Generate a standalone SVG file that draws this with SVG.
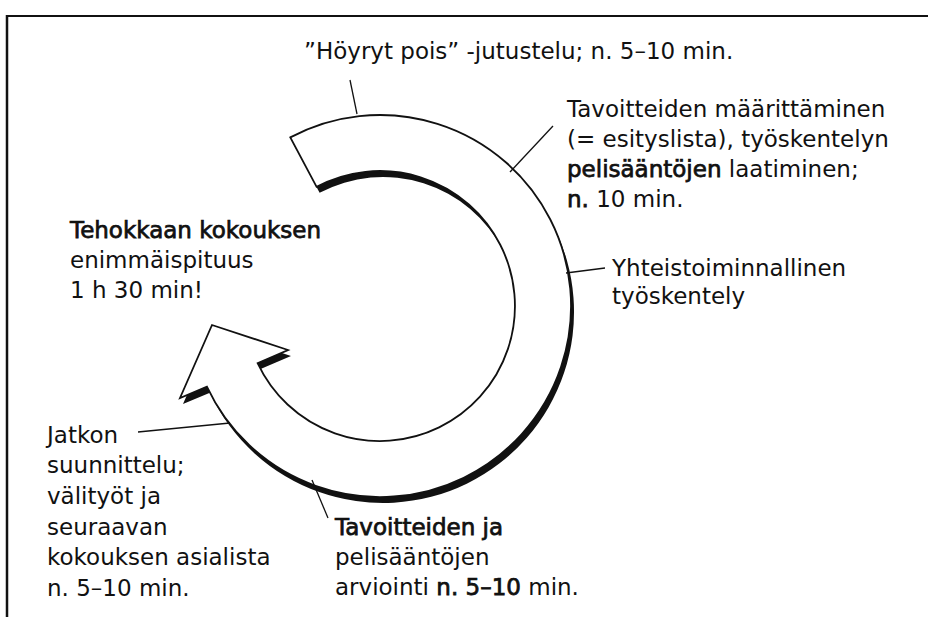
<svg xmlns="http://www.w3.org/2000/svg" width="928" height="617" viewBox="0 0 928 617">
<style>
text{font-family:"DejaVu Sans","Noto Sans","Liberation Sans",sans-serif;font-size:23px;fill:#111}
.b{stroke:#111;stroke-width:0.75}
.lead{stroke:#111;stroke-width:1.3;fill:none}
.frame{stroke:#111;fill:none}
</style>
<defs>
<path id="ringShape" d="M290.3,137.4 A191,191 0 1 1 206.9,386.7 L180,398 L212,325 L288,350 L257.6,363.1 A135,135 0 1 0 316.6,186.8 Z"/>
</defs>
<rect width="928" height="617" fill="#fff"/>
<g id="frame">
<line class="frame" x1="6" y1="16" x2="928" y2="16" stroke-width="2"/>
<line class="frame" x1="7" y1="15" x2="7" y2="617" stroke-width="2.5"/>
</g>
<g id="cycle-arrow">
<use href="#ringShape" transform="translate(3,6)" fill="#111"/>
<use href="#ringShape" fill="#fff" stroke="#111" stroke-width="1.8" stroke-linejoin="miter"/>
</g>
<g id="connectors">
<line class="lead" x1="350" y1="80" x2="357" y2="114"/>
<line class="lead" x1="553" y1="126" x2="510" y2="172"/>
<line class="lead" x1="605" y1="268" x2="566" y2="273"/>
<line class="lead" x1="138" y1="432" x2="230" y2="423"/>
<line class="lead" x1="312" y1="480" x2="328" y2="518"/>
</g>
<g id="label-hoyryt">
<text x="304" y="59">”Höyryt pois” -jutustelu; n. 5–10 min.</text>
</g>
<g id="label-tavoitteiden-maarittaminen">
<text x="567" y="117">Tavoitteiden määrittäminen</text>
<text x="567" y="147">(= esityslista), työskentelyn</text>
<text x="567" y="177"><tspan class="b">pelisääntöjen</tspan> laatiminen;</text>
<text x="567" y="207"><tspan class="b">n.</tspan> 10 min.</text>
</g>
<g id="label-yhteistoiminnallinen">
<text x="612" y="276">Yhteistoiminnallinen</text>
<text x="612" y="304">työskentely</text>
</g>
<g id="label-tehokkaan">
<text x="70" y="238" class="b">Tehokkaan kokouksen</text>
<text x="70" y="268">enimmäispituus</text>
<text x="70" y="298">1 h 30 min!</text>
</g>
<g id="label-jatkon">
<text x="47" y="443">Jatkon</text>
<text x="47" y="473">suunnittelu;</text>
<text x="47" y="504">välityöt ja</text>
<text x="47" y="535">seuraavan</text>
<text x="47" y="565">kokouksen asialista</text>
<text x="47" y="596">n. 5–10 min.</text>
</g>
<g id="label-arviointi">
<text x="335" y="535" class="b">Tavoitteiden ja</text>
<text x="335" y="565">pelisääntöjen</text>
<text x="335" y="595">arviointi <tspan class="b">n. 5–10</tspan> min.</text>
</g>
</svg>
